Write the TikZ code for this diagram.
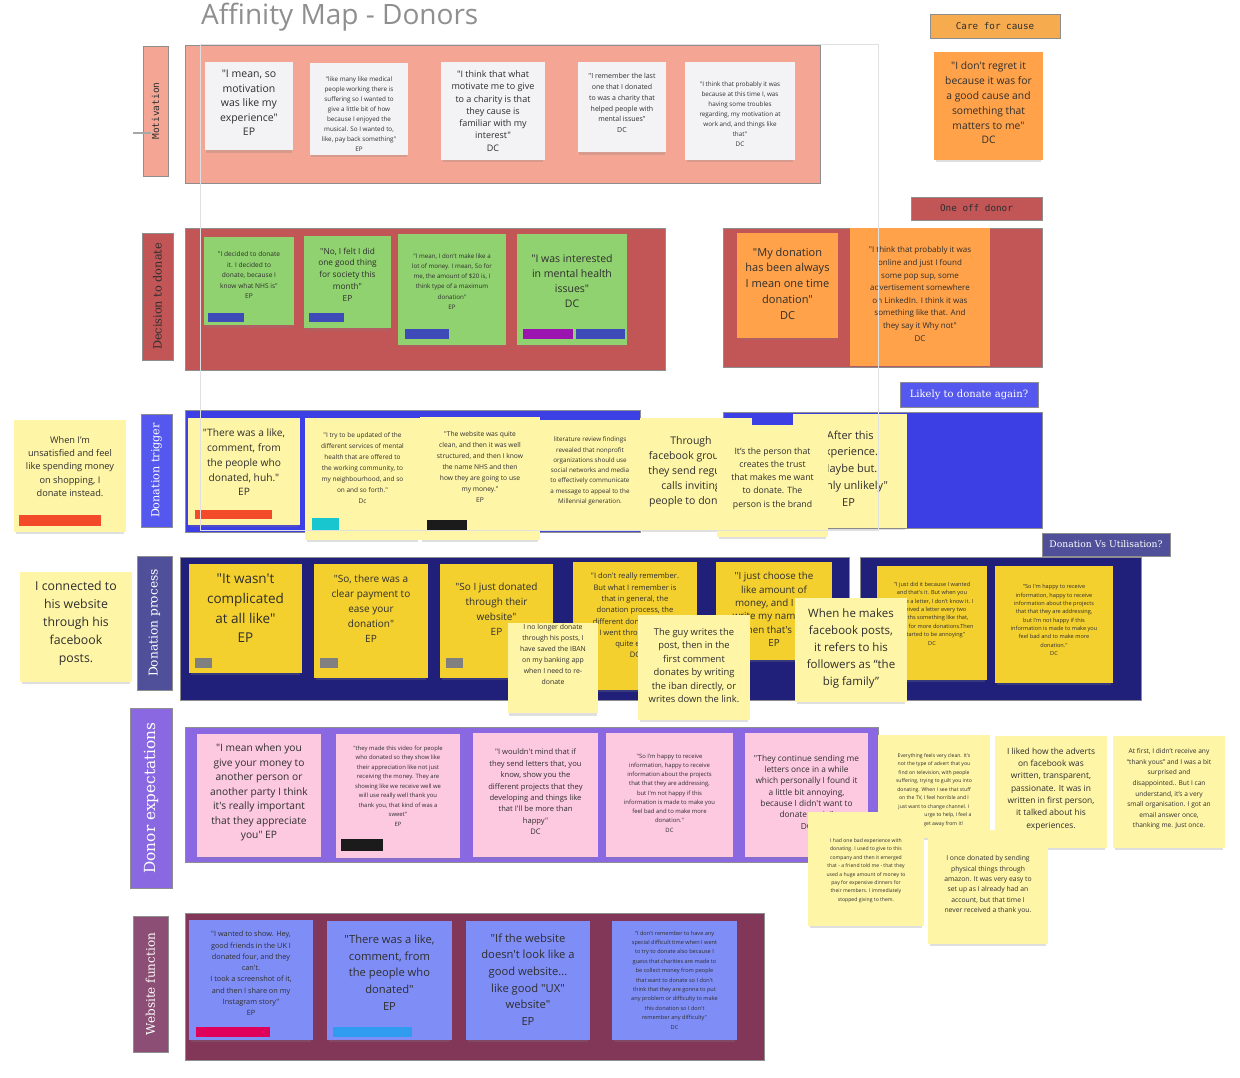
\documentclass[tikz,border=0pt]{standalone}
\usepackage{fontspec}
\setmainfont{Open Sans}[Ligatures=TeXOff]
\newfontfamily\monofont{DejaVu Sans Mono}
\newfontfamily\slabfont{DejaVu Serif}
\usepackage{tikz}
\usetikzlibrary{shadows}
\definecolor{ink}{HTML}{2E2E2E}
\definecolor{framegray}{HTML}{8E8E8E}
\definecolor{titlegray}{HTML}{8F8F8F}
\definecolor{salmon}{HTML}{F5A594}
\definecolor{paperwhite}{HTML}{F3F3F5}
\definecolor{carrot}{HTML}{FFA24A}
\definecolor{carelabel}{HTML}{F6AB4E}
\definecolor{brick}{HTML}{C25556}
\definecolor{leaf}{HTML}{90D26F}
\definecolor{tagblue}{HTML}{3E4AB7}
\definecolor{tagpurple}{HTML}{9B14AF}
\definecolor{violet}{HTML}{5558EE}
\definecolor{royal}{HTML}{3C3FE4}
\definecolor{lemon}{HTML}{FEF5A7}
\definecolor{tagred}{HTML}{F34A29}
\definecolor{tagcyan}{HTML}{17C6CE}
\definecolor{tagblack}{HTML}{1B1B1B}
\definecolor{slate}{HTML}{4F4F9A}
\definecolor{navy}{HTML}{20207B}
\definecolor{gold}{HTML}{F4D02E}
\definecolor{taggray}{HTML}{808080}
\definecolor{lavender}{HTML}{8A68E2}
\definecolor{blush}{HTML}{FDC9E1}
\definecolor{wine}{HTML}{833758}
\definecolor{mauve}{HTML}{8C4E74}
\definecolor{periwinkle}{HTML}{7F8EF7}
\definecolor{tagrose}{HTML}{DF005B}
\definecolor{tagsky}{HTML}{2F9CEF}

\begin{document}
\begin{tikzpicture}[x=1pt,y=-1pt]
\tikzstyle{frame}=[draw=framegray,line width=0.8pt]
\tikzstyle{paper}=[rectangle,inner sep=0pt,drop shadow={shadow xshift=0pt,shadow yshift=-4pt,opacity=0.25,shadow scale=0.97}]
\tikzstyle{words}=[align=center,text=ink,inner sep=0pt]
\tikzstyle{header}=[draw=framegray,line width=0.6pt,inner sep=0pt]
\tikzset{fs/.style 2 args={font=\fontsize{#1}{#2}\selectfont},
  mono/.style={font=\monofont\fontsize{#1}{#1}\selectfont},
  slab/.style={font=\slabfont\fontsize{#1}{#1}\selectfont}}
\useasboundingbox[fill=white] (0,0) rectangle (1240,1078);

\node[font=\fontsize{28}{32}\selectfont,text=titlegray,anchor=west,inner sep=0pt] (title) at (201,17) {Affinity Map - Donors};

% frames
\draw[frame,fill=salmon] (185,45) rectangle (820,183);
\draw[frame,fill=brick] (185,228) rectangle (665,370);
\draw[frame,fill=brick] (723,228) rectangle (1042,367);
\draw[frame,fill=royal] (185,410) rectangle (640,532);
\draw[frame,fill=royal] (723,412) rectangle (1042,528);
\draw[frame,fill=navy] (180,557) rectangle (849,700);
\draw[frame,fill=navy] (860,557) rectangle (1141,700);
\draw[frame,fill=lavender] (185,727) rectangle (878,862);
\draw[frame,fill=wine] (185,913) rectangle (764,1060);

% headers
\node[header,fill=salmon,rotate=90,minimum width=130,minimum height=25,mono=9.5,text=ink] (motl) at (155.5,111) {Motivation};
\fill[taggray!70] (133,132) rectangle (151,134.5);
\node[header,fill=carelabel,minimum width=130,minimum height=24,mono=9.3,text=ink] (carel) at (995,26) {Care for cause};
\node[header,fill=brick,minimum width=131,minimum height=23,mono=9.3,text=ink] (oncel) at (976.5,208.5) {One off donor};
\node[header,fill=brick,rotate=90,minimum width=127,minimum height=31,slab=11.3,text=ink] (decl) at (157.5,296.5) {Decision to donate};
\node[header,fill=violet,minimum width=138,minimum height=25,slab=10,text=white] (againl) at (969,394.5) {Likely to donate again?};
\node[header,fill=violet,rotate=90,minimum width=113,minimum height=31,slab=11.2,text=white] (trigl) at (156.5,470.5) {Donation trigger};
\node[header,fill=slate,minimum width=128,minimum height=23,slab=9.2,text=white] (usel) at (1106,544.5) {Donation Vs Utilisation?};
\node[header,fill=slate,rotate=90,minimum width=134,minimum height=35,slab=12.2,text=white] (procl) at (154.5,623) {Donation process};
\node[header,fill=lavender,rotate=90,minimum width=180,minimum height=42,slab=15.3,text=white] (expl) at (151,798) {Donor expectations};
\node[header,fill=mauve,rotate=90,minimum width=136,minimum height=35,slab=12,text=white] (webl) at (150.5,984) {Website function};

% motivation
\node[paper,fill=paperwhite,minimum width=88,minimum height=88] (mot1) at (249,106) {};
\node[words,fs={10.5}{14.5}] (mot1t) at (249,103) {"I mean, so\\motivation\\was like my\\experience"\\EP};
\node[paper,fill=paperwhite,minimum width=98,minimum height=92] (mot2) at (359,109) {};
\node[words,fs={6.3}{10}] (mot2t) at (359,114) {"like many like medical\\people working there is\\suffering so I wanted to\\give a little bit of how\\because I enjoyed the\\musical. So I wanted to,\\like, pay back something"\\EP};
\node[paper,fill=paperwhite,minimum width=104,minimum height=98] (mot3) at (493,111) {};
\node[words,fs={9}{12.3}] (mot3t) at (493,111) {"I think that what\\motivate me to give\\to a charity is that\\they cause is\\familiar with my\\interest"\\DC};
\node[paper,fill=paperwhite,minimum width=88,minimum height=90] (mot4) at (622,107) {};
\node[words,fs={7}{10.8}] (mot4t) at (622,103) {"I remember the last\\one that I donated\\to was a charity that\\helped people with\\mental issues"\\DC};
\node[paper,fill=paperwhite,minimum width=110,minimum height=98] (mot5) at (740,111) {};
\node[words,fs={6.3}{10}] (mot5t) at (740,114) {"I think that probably it was\\because at this time I, was\\having some troubles\\regarding, my motivation at\\work and, and things like\\that"\\DC};
\node[paper,fill=carrot,minimum width=109,minimum height=108] (care1) at (988.5,106) {};
\node[words,fs={10.3}{14.8}] (care1t) at (988.5,103) {"I don't regret it\\because it was for\\a good cause and\\something that\\matters to me"\\DC};

% decision to donate
\node[paper,fill=leaf,minimum width=90,minimum height=88] (dec1) at (249,281) {};
\node[words,fs={6.6}{10.5}] (dec1t) at (249,275) {"I decided to donate\\it. I decided to\\donate, because I\\know what NHS is"\\EP};
\node[paper,fill=leaf,minimum width=87,minimum height=92] (dec2) at (347.5,282) {};
\node[words,fs={8.3}{11.8}] (dec2t) at (347.5,274.5) {"No, I felt I did\\one good thing\\for society this\\month"\\EP};
\node[paper,fill=leaf,minimum width=108,minimum height=111] (dec3) at (452,289.5) {};
\node[words,fs={6.2}{10.2}] (dec3t) at (452,281.5) {"I mean, I don't make like a\\lot of money. I mean, So for\\me, the amount of \$20 is, I\\think type of a maximum\\donation"\\EP};
\node[paper,fill=leaf,minimum width=110,minimum height=111] (dec4) at (572,289.5) {};
\node[words,fs={10.5}{15}] (dec4t) at (572,281) {"I was interested\\in mental health\\issues"\\DC};
\node[paper,fill=carrot,minimum width=101,minimum height=105] (once1) at (787.5,285.5) {};
\node[words,fs={11}{15.8}] (once1t) at (787.5,283.5) {"My donation\\has been always\\I mean one time\\donation"\\DC};
\node[paper,fill=carrot,minimum width=140,minimum height=138] (once2) at (920,297) {};
\node[words,fs={8}{12.6}] (once2t) at (920,294) {"I think that probably it was\\online and just I found\\some pop sup, some\\advertisement somewhere\\on LinkedIn. I think it was\\something like that. And\\they say it Why not"\\DC};

% donation trigger
\node[paper,fill=lemon,minimum width=112,minimum height=112] (trig0) at (70,476) {};
\node[words,fs={9.2}{13.2}] (trig0t) at (70,466.5) {When I’m\\unsatisfied and feel\\like spending money\\on shopping, I\\donate instead.};
\node[paper,fill=lemon,minimum width=112,minimum height=107] (trig1) at (244,471.5) {};
\node[words,fs={10.2}{14.8}] (trig1t) at (244,462.5) {"There was a like,\\comment, from\\the people who\\donated, huh."\\EP};
\node[paper,fill=lemon,minimum width=115,minimum height=122] (trig2) at (362.5,479) {};
\node[words,fs={6.5}{11}] (trig2t) at (362.5,468) {"I try to be updated of the\\different services of mental\\health that are offered to\\the working community, to\\my neighbourhood, and so\\on and so forth."\\Dc};
\node[paper,fill=lemon,minimum width=120,minimum height=123] (trig3) at (480,478.5) {};
\node[words,fs={6.7}{11}] (trig3t) at (480,467) {"The website was quite\\clean, and then it was well\\structured, and then I know\\the name NHS and then\\how they are going to use\\my money."\\EP};
\node[paper,fill=lemon,minimum width=100,minimum height=110] (trig4) at (590,475) {};
\node[words,fs={6.3}{10.3}] (trig4t) at (590,471) {literature review findings\\revealed that nonprofit\\organizations should use\\social networks and media\\to effectively communicate\\a message to appeal to the\\Millennial generation.};
\node[paper,fill=lemon,minimum width=112,minimum height=112] (trig5) at (696,474) {};
\node[words,fs={10.5}{15}] (trig5t) at (691,472) {Through\\facebook groups,\\they send regular\\calls inviting\\people to donate};
\node[paper,fill=lemon,minimum width=114,minimum height=114] (trig7) at (850,471) {};
\node[words,fs={11}{16.8}] (trig7t) at (848.5,468.5) {"After this\\experience.\\Maybe but.\\Highly unlikely"\\EP};
\node[paper,fill=lemon,minimum width=111,minimum height=112] (trig6) at (772.5,481) {};
\node[words,fs={8.7}{13.2}] (trig6t) at (772.5,478.5) {It’s the person that\\creates the trust\\that makes me want\\to donate. The\\person is the brand};

% donation process
\node[paper,fill=lemon,minimum width=112,minimum height=110] (proc0) at (76,627) {};
\node[words,fs={12.3}{18}] (proc0t) at (76,623) {I connected to\\his website\\through his\\facebook\\posts.};
\node[paper,fill=gold,minimum width=113,minimum height=109] (proc1) at (245.5,618.5) {};
\node[words,fs={13.5}{19.7}] (proc1t) at (245.5,608.5) {"It wasn't\\complicated\\at all like"\\EP};
\node[paper,fill=gold,minimum width=114,minimum height=114] (proc2) at (371,621) {};
\node[words,fs={10}{15}] (proc2t) at (371,609) {"So, there was a\\clear payment to\\ease your\\donation"\\EP};
\node[paper,fill=gold,minimum width=113,minimum height=114] (proc3) at (496.5,621) {};
\node[words,fs={10}{15}] (proc3t) at (496.5,609.5) {"So I just donated\\through their\\website"\\EP};
\node[paper,fill=gold,minimum width=124,minimum height=128] (proc5) at (635,626) {};
\node[words,fs={7.6}{11.3}] (proc5t) at (635,615.5) {"I don't really remember.\\But what I remember is\\that in general, the\\donation process, the\\different donations that\\I went through were\\quite easy"\\DC};
\node[paper,fill=lemon,minimum width=90,minimum height=90] (proc4) at (553,668) {};
\node[words,fs={6.9}{11}] (proc4t) at (553,654.5) {I no longer donate\\through his posts, I\\have saved the IBAN\\on my banking app\\when I need to re-\\donate};
\node[paper,fill=gold,minimum width=116,minimum height=98] (proc7) at (774,611) {};
\node[words,fs={9.8}{13.4}] (proc7t) at (774,609.5) {"I just choose the\\like amount of\\money, and I just\\write my name on\\then that's it"\\EP};
\node[paper,fill=lemon,minimum width=112,minimum height=105] (proc6) at (694,667.5) {};
\node[words,fs={9.4}{13.4}] (proc6t) at (694,665.5) {The guy writes the\\post, then in the\\first comment\\donates by writing\\the iban directly, or\\writes down the link.};
\node[paper,fill=gold,minimum width=110,minimum height=114] (proc9) at (932,623) {};
\node[words,fs={5.6}{8.4}] (proc9t) at (932,613.5) {"I just did it because I wanted\\and that's it. But when you\\receive a letter, I don't know it. I\\received a letter every two\\months something like that,\\asking for more donations.Then\\it started to be annoying"\\DC};
\node[paper,fill=lemon,minimum width=112,minimum height=104] (proc8) at (851,650) {};
\node[words,fs={11.5}{16.8}] (proc8t) at (851,648.5) {When he makes\\facebook posts,\\it refers to his\\followers as “the\\big family”};
\node[paper,fill=gold,minimum width=118,minimum height=117] (proc10) at (1054,624.5) {};
\node[words,fs={5.6}{8.3}] (proc10t) at (1054,620) {"So I'm happy to receive\\information, happy to receive\\information about the projects\\that that they are addressing,\\but I'm not happy if this\\information is made to make you\\feel bad and to make more\\donation."\\DC};

% donor expectations
\node[paper,fill=blush,minimum width=124,minimum height=123] (exp1) at (259,795.5) {};
\node[words,fs={10.2}{14.5}] (exp1t) at (259,792.5) {"I mean when you\\give your money to\\another person or\\another party I think\\it's really important\\that they appreciate\\you" EP};
\node[paper,fill=blush,minimum width=124,minimum height=124] (exp2) at (398,796) {};
\node[words,fs={5.9}{9.5}] (exp2t) at (398,786) {"they made this video for people\\who donated so they show like\\their appreciation like not just\\receiving the money. They are\\showing like we receive well we\\will use really well thank you\\thank you, that kind of was a\\sweet"\\EP};
\node[paper,fill=blush,minimum width=125,minimum height=124] (exp3) at (535.5,795) {};
\node[words,fs={7.6}{11.4}] (exp3t) at (535.5,792) {"I wouldn't mind that if\\they send letters that, you\\know, show you the\\different projects that they\\developing and things like\\that I'll be more than\\happy"\\DC};
\node[paper,fill=blush,minimum width=127,minimum height=124] (exp4) at (669.5,795) {};
\node[words,fs={5.9}{9.25}] (exp4t) at (669.5,793) {"So I'm happy to receive\\information, happy to receive\\information about the projects\\that that they are addressing,\\but I'm not happy if this\\information is made to make you\\feel bad and to make more\\donation."\\DC};
\node[paper,fill=blush,minimum width=123,minimum height=124] (exp5) at (806.5,795) {};
\node[words,fs={8.3}{11.3}] (exp5t) at (806.5,792) {"They continue sending me\\letters once in a while\\which personally I found it\\a little bit annoying,\\because I didn't want to\\donate again"\\DC};
\node[paper,fill=lemon,minimum width=112,minimum height=103] (obs1) at (934,786.5) {};
\node[words,fs={5.1}{8.5}] (obs1t) at (934,790) {Everything feels very clean. It's\\not the type of advert that you\\find on television, with people\\suffering, trying to guilt you into\\donating. When I see that stuff\\on the TV, I feel horrible and I\\just want to change channel. I\\don't feel a urge to help, I feel a\\urge to get away from it!};
\node[paper,fill=lemon,minimum width=116,minimum height=114] (obs2) at (866,869) {};
\node[words,fs={5.1}{8.4}] (obs2t) at (866,870.5) {I had one bad experience with\\donating. I used to give to this\\company and then it emerged\\that - a friend told me - that they\\used a huge amount of money to\\pay for expensive dinners for\\their members. I immediately\\stopped giving to them.};
\node[paper,fill=lemon,minimum width=112,minimum height=112] (obs3) at (1051,792) {};
\node[words,fs={8.4}{12.3}] (obs3t) at (1051,789) {I liked how the adverts\\on facebook was\\written, transparent,\\passionate. It was in\\written in first person,\\it talked about his\\experiences.};
\node[paper,fill=lemon,minimum width=112,minimum height=112] (obs4) at (1169,792) {};
\node[words,fs={6.6}{10.6}] (obs4t) at (1169,789) {At first, I didn’t receive any\\“thank yous” and I was a bit\\surprised and\\disappointed.. But I can\\understand, it’s a very\\small organisation. I got an\\email answer once,\\thanking me. Just once.};
\node[paper,fill=lemon,minimum width=120,minimum height=114] (obs5) at (988,887) {};
\node[words,fs={6.8}{10.4}] (obs5t) at (988,885) {I once donated by sending\\physical things through\\amazon. It was very easy to\\set up as I already had an\\account, but that time I\\never received a thank you.};

% website function
\node[paper,fill=periwinkle,minimum width=124,minimum height=120] (web1) at (251,980) {};
\node[words,fs={7.3}{11.3}] (web1t) at (251,973.5) {"I wanted to show. Hey,\\good friends in the UK I\\donated four, and they\\can't.\\I took a screenshot of it,\\and then I share on my\\Instagram story"\\EP};
\node[paper,fill=periwinkle,minimum width=125,minimum height=119] (web2) at (389.5,980.5) {};
\node[words,fs={11.2}{16.7}] (web2t) at (389.5,972.5) {"There was a like,\\comment, from\\the people who\\donated"\\EP};
\node[paper,fill=periwinkle,minimum width=124,minimum height=119] (web3) at (528,980.5) {};
\node[words,fs={11.2}{16.6}] (web3t) at (528,979.5) {"If the website\\doesn't look like a\\good website...\\like good "UX"\\website"\\EP};
\node[paper,fill=periwinkle,minimum width=125,minimum height=119] (web4) at (674.5,980.5) {};
\node[words,fs={5.6}{9.4}] (web4t) at (674.5,980) {"I don't remember to have any\\special difficult time when I went\\to try to donate also because I\\guess that charities are made to\\be collect money from people\\that want to donate so I don't\\think that they are gonna to put\\any problem or difficulty to make\\this donation so I don't\\remember any difficulty"\\DC};

% tags
\foreach \x/\y/\w/\h/\c in {
	208/313/36/9/tagblue,
	309/313/35/9/tagblue,
	405/329/44/10/tagblue,
	523/329/50/10/tagpurple,
	576/329/49/10/tagblue,
	19/515/82/11/tagred,
	195/510/77/9/tagred,
	312/518/27/12/tagcyan,
	427/520/40/11/tagblack,
	195/658/17/10/taggray,
	320/658/18/10/taggray,
	446/658/17/10/taggray,
	341/839/42/12/tagblack,
	196/1027/74/10/tagrose,
	333/1027/79/10/tagsky}
	\fill[\c] (\x,\y) rectangle ++(\w,\h);

\draw[black!12,line width=1pt] (200,45) rectangle (878,530);
\end{tikzpicture}
\end{document}
